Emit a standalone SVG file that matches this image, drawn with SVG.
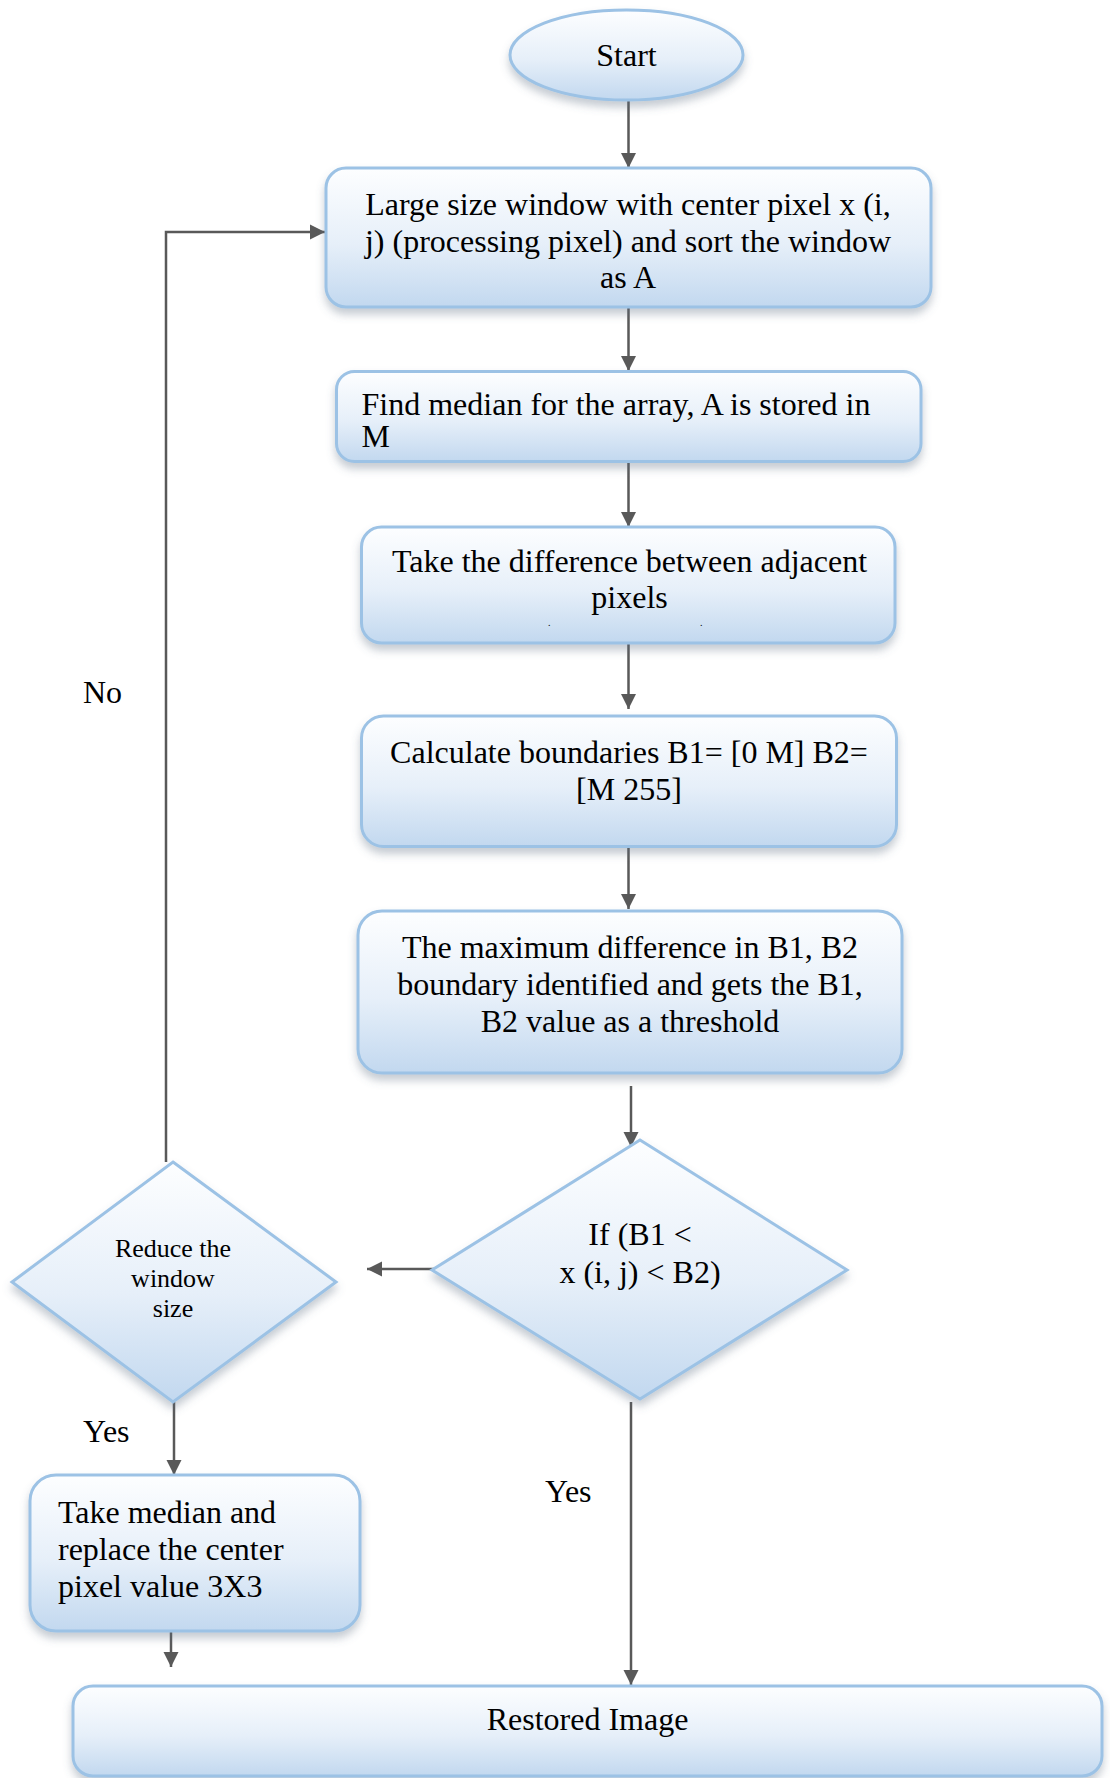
<svg xmlns="http://www.w3.org/2000/svg" width="1110" height="1778" viewBox="0 0 1110 1778">
<style>
  .node { stroke: #9cc2e5; stroke-width: 3; fill: url(#grad); filter: url(#shadow); }
  .t { font-family: "Liberation Serif", "Times New Roman", serif; font-size: 32px; fill: #000; }
  .c { text-anchor: middle; }
  .s { font-size: 26px; }
  .conn { stroke: #595959; stroke-width: 2.5; fill: none; }
  .arr { marker-end: url(#ah); }
</style>
<defs>
  <linearGradient id="grad" x1="0" y1="0" x2="0" y2="1">
    <stop offset="0" stop-color="#fdfeff"/>
    <stop offset="0.55" stop-color="#e6eff9"/>
    <stop offset="1" stop-color="#c2d8ef"/>
  </linearGradient>
  <filter id="shadow" x="-10%" y="-10%" width="120%" height="130%">
    <feDropShadow dx="0" dy="6" stdDeviation="4" flood-color="#5a6a80" flood-opacity="0.35"/>
  </filter>
  <marker id="ah" markerUnits="userSpaceOnUse" markerWidth="16" markerHeight="16" viewBox="0 0 16 16" refX="15" refY="8" orient="auto">
    <path d="M0,0.5 L15,8 L0,15.5 Z" fill="#595959"/>
  </marker>
</defs>
<rect width="1110" height="1778" fill="#ffffff"/>

<g id="connectors">
  <line class="conn arr" x1="628.5" y1="100" x2="628.5" y2="168"/>
  <line class="conn arr" x1="628.5" y1="308" x2="628.5" y2="371"/>
  <line class="conn arr" x1="628.5" y1="462" x2="628.5" y2="527"/>
  <line class="conn arr" x1="628.5" y1="644" x2="628.5" y2="709"/>
  <line class="conn arr" x1="628.5" y1="847" x2="628.5" y2="909"/>
  <line class="conn arr" x1="631" y1="1086" x2="631" y2="1147"/>
  <line class="conn arr" x1="443" y1="1269" x2="367" y2="1269"/>
  <polyline class="conn arr" points="166,1162 166,232 325,232"/>
  <line class="conn arr" x1="174" y1="1402" x2="174" y2="1475"/>
  <line class="conn arr" x1="171" y1="1632" x2="171" y2="1667"/>
  <line class="conn arr" x1="631" y1="1402" x2="631" y2="1685"/>
</g>

<g id="start">
  <ellipse class="node" cx="626.5" cy="55" rx="116.5" ry="45"/>
  <text class="t c" x="626.5" y="66">Start</text>
</g>

<g id="box1">
  <rect class="node" x="326" y="168" width="605" height="139" rx="20"/>
  <text class="t c" x="628" y="215">Large size window with center pixel x (i,</text>
  <text class="t c" x="628" y="252">j) (processing pixel) and sort the window</text>
  <text class="t c" x="628" y="288">as A</text>
</g>

<g id="box2">
  <rect class="node" x="336.5" y="371.5" width="584.5" height="90" rx="18"/>
  <text class="t" x="361.5" y="415">Find median for the array, A is stored in</text>
  <text class="t" x="361.5" y="447">M</text>
</g>

<g id="box3">
  <rect class="node" x="361.5" y="527" width="533.5" height="116" rx="20"/>
  <text class="t c" x="629.5" y="572">Take the difference between adjacent</text>
  <text class="t c" x="629.5" y="608">pixels</text>
  <text class="t" x="548" y="626" style="font-size:10px">.</text>
  <text class="t" x="700" y="626" style="font-size:10px">.</text>
</g>

<g id="box4">
  <rect class="node" x="361.5" y="716" width="535" height="130.5" rx="22"/>
  <text class="t c" x="629" y="763">Calculate boundaries B1= [0 M] B2=</text>
  <text class="t c" x="629" y="800">[M 255]</text>
</g>

<g id="box5">
  <rect class="node" x="358" y="911" width="544" height="162" rx="24"/>
  <text class="t c" x="630" y="958">The maximum difference in B1, B2</text>
  <text class="t c" x="630" y="995">boundary identified and gets the B1,</text>
  <text class="t c" x="630" y="1032">B2 value as a threshold</text>
</g>

<g id="decision1">
  <polygon class="node" points="640,1140 847,1270 640,1399 432,1270"/>
  <text class="t c" x="640" y="1245">If (B1 &lt;</text>
  <text class="t c" x="640" y="1283">x (i, j) &lt; B2)</text>
</g>

<g id="decision2">
  <polygon class="node" points="173,1162 336,1282 173,1402 12,1282"/>
  <text class="t s c" x="173" y="1257">Reduce the</text>
  <text class="t s c" x="173" y="1287">window</text>
  <text class="t s c" x="173" y="1317">size</text>
</g>

<g id="box6">
  <rect class="node" x="30" y="1475" width="330" height="156" rx="26"/>
  <text class="t" x="58" y="1523">Take median and</text>
  <text class="t" x="58" y="1560">replace the center</text>
  <text class="t" x="58" y="1597">pixel value 3X3</text>
</g>

<g id="box7">
  <rect class="node" x="73" y="1686" width="1029" height="90" rx="20"/>
  <text class="t c" x="587.5" y="1730">Restored Image</text>
</g>

<g id="labels">
  <text class="t" x="83" y="703">No</text>
  <text class="t" x="83" y="1442">Yes</text>
  <text class="t" x="545" y="1502">Yes</text>
</g>
</svg>
